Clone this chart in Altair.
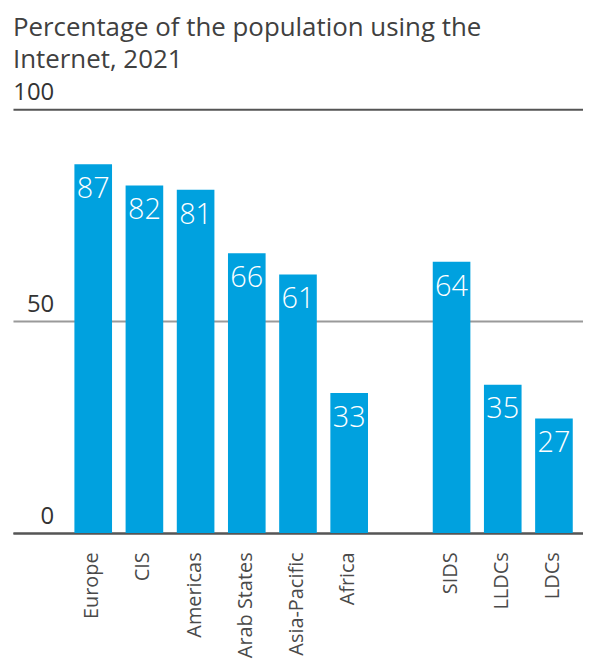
import altair as alt
import pandas as pd

categories = ["Europe", "CIS", "Americas", "Arab States", "Asia-Pacific", "Africa", "SIDS", "LLDCs", "LDCs"]
values = [87, 82, 81, 66, 61, 33, 64, 35, 27]
domain = [" ", "Europe", "CIS", "Americas", "Arab States", "Asia-Pacific", "Africa", "  ", "SIDS", "LLDCs", "LDCs"]
y_ticks = [0, 50, 100]
title_lines = ["Percentage of the population using the", "Internet, 2021"]

df = pd.DataFrame({"region": categories, "pct": values})

FONT = "Open Sans"
BLUE = "#00a1df"

x = alt.X(
    "region:N",
    scale=alt.Scale(domain=domain, paddingInner=0.265, paddingOuter=0.2),
    axis=alt.Axis(
        title=None, labelAngle=-90, ticks=False, labelPadding=19,
        labelFontSize=20, labelColor="#4a4a4a", labelFont=FONT,
        labelBaseline="alphabetic", labelOffset=5,
        domainColor="#555", domainWidth=2,
    ),
)
y = alt.Y(
    "pct:Q",
    scale=alt.Scale(domain=[0, 100]),
    axis=alt.Axis(
        title=None, values=y_ticks, ticks=False, domain=False, grid=True,
        gridColor={"condition": {"test": "datum.value === 50", "value": "#9a9a9a"}, "value": "#555"},
        gridWidth=2,
        labelAlign="right", labelBaseline="alphabetic", labelPadding=-41,
        labelOffset=-10, labelFontSize=24, labelColor="#333", labelFont=FONT,
    ),
)

base = alt.Chart(df).encode(x=x, y=y)
bars = base.mark_bar(color=BLUE)
labels = base.mark_text(
    baseline="alphabetic", dy=34, fontSize=29, fontWeight=300,
    color="white", font=FONT,
).encode(text="pct:Q")

chart = (bars + labels).properties(
    width=573, height=426,
    padding={"left": 4, "top": 5, "right": 0, "bottom": 0},
    title=alt.TitleParams(
        title_lines, anchor="start", fontSize=26, fontWeight="normal",
        color="#404040", font=FONT, lineHeight=33, offset=7, frame="group",
    ),
).configure_view(stroke=None)

chart.save("out.html", embed_options={"renderer": "svg", "actions": False})
